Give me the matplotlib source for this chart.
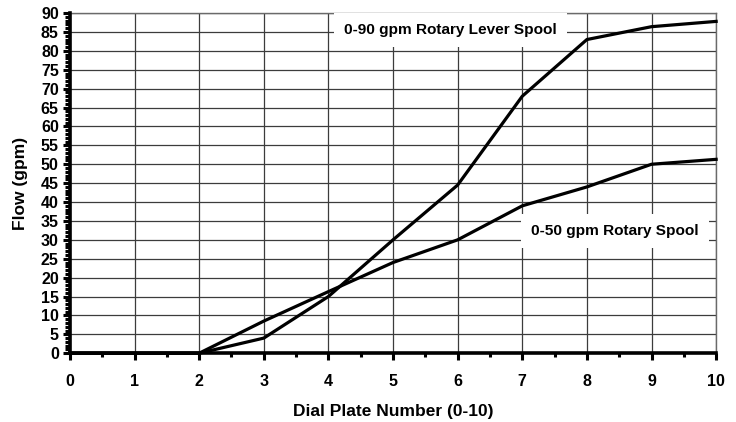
import numpy as np
import matplotlib.pyplot as plt
from matplotlib.ticker import MultipleLocator

plt.rcParams['font.family'] = ['Liberation Sans', 'DejaVu Sans']
plt.rcParams['font.weight'] = 'bold'

# Data
dial = [0, 1, 2, 3, 4, 5, 6, 7, 8, 9, 10]
lever_spool = [0, 0, 0, 4, 15, 30, 44.5, 68, 83, 86.4, 87.8]
rotary_spool = [0, 0, 0, 8.5, 16.3, 24, 30, 39, 44, 50, 51.3]

fig, ax = plt.subplots(figsize=(7.36, 4.22), dpi=100)
fig.subplots_adjust(left=0.095, right=0.973, top=0.969, bottom=0.163)

ax.plot(dial, lever_spool, color='black', lw=2.3, zorder=3, clip_on=False)
ax.plot(dial, rotary_spool, color='black', lw=2.3, zorder=3, clip_on=False)

ax.set_xlim(0, 10)
ax.set_ylim(0, 90)
ax.xaxis.set_major_locator(MultipleLocator(1))
ax.xaxis.set_minor_locator(MultipleLocator(0.5))
ax.yaxis.set_major_locator(MultipleLocator(5))
ax.yaxis.set_minor_locator(MultipleLocator(1))

ax.grid(True, which='major', color='#3c3c3c', lw=0.9)
ax.set_axisbelow(True)

for s in ['top', 'right']:
    ax.spines[s].set_color('#6a6a6a')
    ax.spines[s].set_linewidth(1.0)
for s in ['left', 'bottom']:
    ax.spines[s].set_color('black')
    ax.spines[s].set_linewidth(2.6)
    ax.spines[s].set_zorder(4)

ax.tick_params(axis='both', which='major', direction='out', length=5, width=2.2,
               labelsize=11.5, pad=3)
ax.tick_params(axis='both', which='minor', direction='out', length=3.5, width=2.2)
ax.tick_params(axis='x', which='major', pad=10)
ax.tick_params(axis='x', which='minor', length=3)

for lbl in ax.get_xticklabels() + ax.get_yticklabels():
    lbl.set_fontweight('bold')

ax.set_xlabel('Dial Plate Number (0-10)', fontsize=12.5, fontweight='bold', labelpad=11)
ax.set_ylabel('Flow (gpm)', fontsize=12.5, fontweight='bold', labelpad=9)

box = dict(boxstyle='square,pad=0.65', fc='white', ec='none')
ax.text(5.89, 84.4, '0-90 gpm Rotary Lever Spool', fontsize=11.1, fontweight='bold',
        ha='center', va='baseline', bbox=box, zorder=2.8)
ax.text(8.43, 31.4, '0-50 gpm Rotary Spool', fontsize=11.1, fontweight='bold',
        ha='center', va='baseline', bbox=box, zorder=2.8)

fig.savefig('out.png', dpi=100)
